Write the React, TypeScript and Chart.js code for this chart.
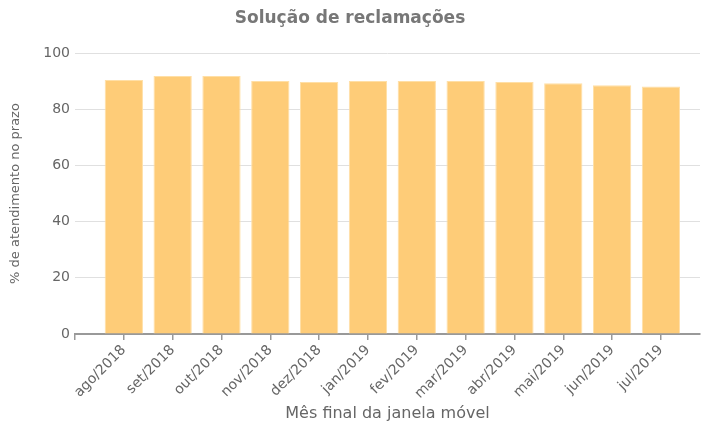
import React, { useEffect, useRef } from "react";
import { Chart, registerables } from "chart.js";

Chart.register(...registerables);

const categories = [
  "ago/2018", "set/2018", "out/2018", "nov/2018", "dez/2018", "jan/2019",
  "fev/2019", "mar/2019", "abr/2019", "mai/2019", "jun/2019", "jul/2019",
];
const values = [90.4, 91.8, 91.8, 90.0, 89.7, 90.0, 90.0, 90.0, 89.7, 89.2, 88.5, 88.1];
const yTicks = [0, 20, 40, 60, 80, 100];
const chartTitle = "Solução de reclamações";
const xTitle = "Mês final da janela móvel";
const yTitle = "% de atendimento no prazo";

const FONT = "'DejaVu Sans', Verdana, sans-serif";

export default function App() {
  const ref = useRef<HTMLCanvasElement | null>(null);

  useEffect(() => {
    if (!ref.current) return;
    const chart = new Chart(ref.current, {
      type: "bar",
      data: {
        datasets: [
          {
            data: values.map((v, i) => ({ x: i, y: v })),
            backgroundColor: "#FECC78",
            borderColor: "#FFDFA6",
            borderWidth: 1,
            barPercentage: 0.98,
            categoryPercentage: 0.8,
          },
        ],
      },
      options: {
        animation: false,
        responsive: true,
        maintainAspectRatio: false,
        layout: { padding: { left: 0, right: 2, top: 0, bottom: 0 } },
        plugins: {
          legend: { display: false },
          tooltip: { enabled: false },
          title: {
            display: true,
            text: chartTitle,
            color: "#777",
            font: { family: FONT, size: 17, weight: "bold" },
            padding: { top: 8, bottom: 24.6 },
          },
        },
        scales: {
          x: {
            type: "linear",
            min: -1,
            max: 11.8,
            offset: false,
            afterBuildTicks: (scale: any) => {
              scale.ticks = [-1, ...categories.map((_, i) => i)].map((v) => ({ value: v }));
            },
            afterFit: (scale: any) => {
              scale.height = 89;
            },
            ticks: {
              autoSkip: false,
              minRotation: 45,
              maxRotation: 45,
              padding: 2,
              color: "#666",
              font: { family: FONT, size: 14 },
              callback: (v: any) => (v >= 0 && categories[v] !== undefined ? categories[v] : ""),
            },
            grid: {
              offset: false,
              drawOnChartArea: false,
              drawTicks: true,
              tickLength: 6,
              color: "#999",
              lineWidth: 1.5,
            },
            border: { display: true, color: "#999", width: 2 },
            title: {
              display: true,
              text: xTitle,
              color: "#666",
              font: { family: FONT, size: 16 },
              padding: { top: 0, bottom: 0 },
            },
          },
          y: {
            min: 0,
            max: 100,
            afterBuildTicks: (scale: any) => {
              scale.ticks = yTicks.map((v) => ({ value: v }));
            },
            afterFit: (scale: any) => {
              scale.width = 75;
            },
            ticks: {
              padding: 5,
              color: "#666",
              font: { family: FONT, size: 14 },
            },
            grid: {
              drawTicks: false,
              color: "#e0e0e0",
              lineWidth: 1,
            },
            border: { display: false },
            title: {
              display: true,
              text: yTitle,
              color: "#666",
              font: { family: FONT, size: 13 },
              padding: { top: 8, bottom: 0 },
            },
          },
        },
      },
    });
    return () => chart.destroy();
  }, []);

  return (
    <div style={{ position: "absolute", left: 0, top: 0, width: 702, height: 423 }}>
      <canvas ref={ref} />
    </div>
  );
}
